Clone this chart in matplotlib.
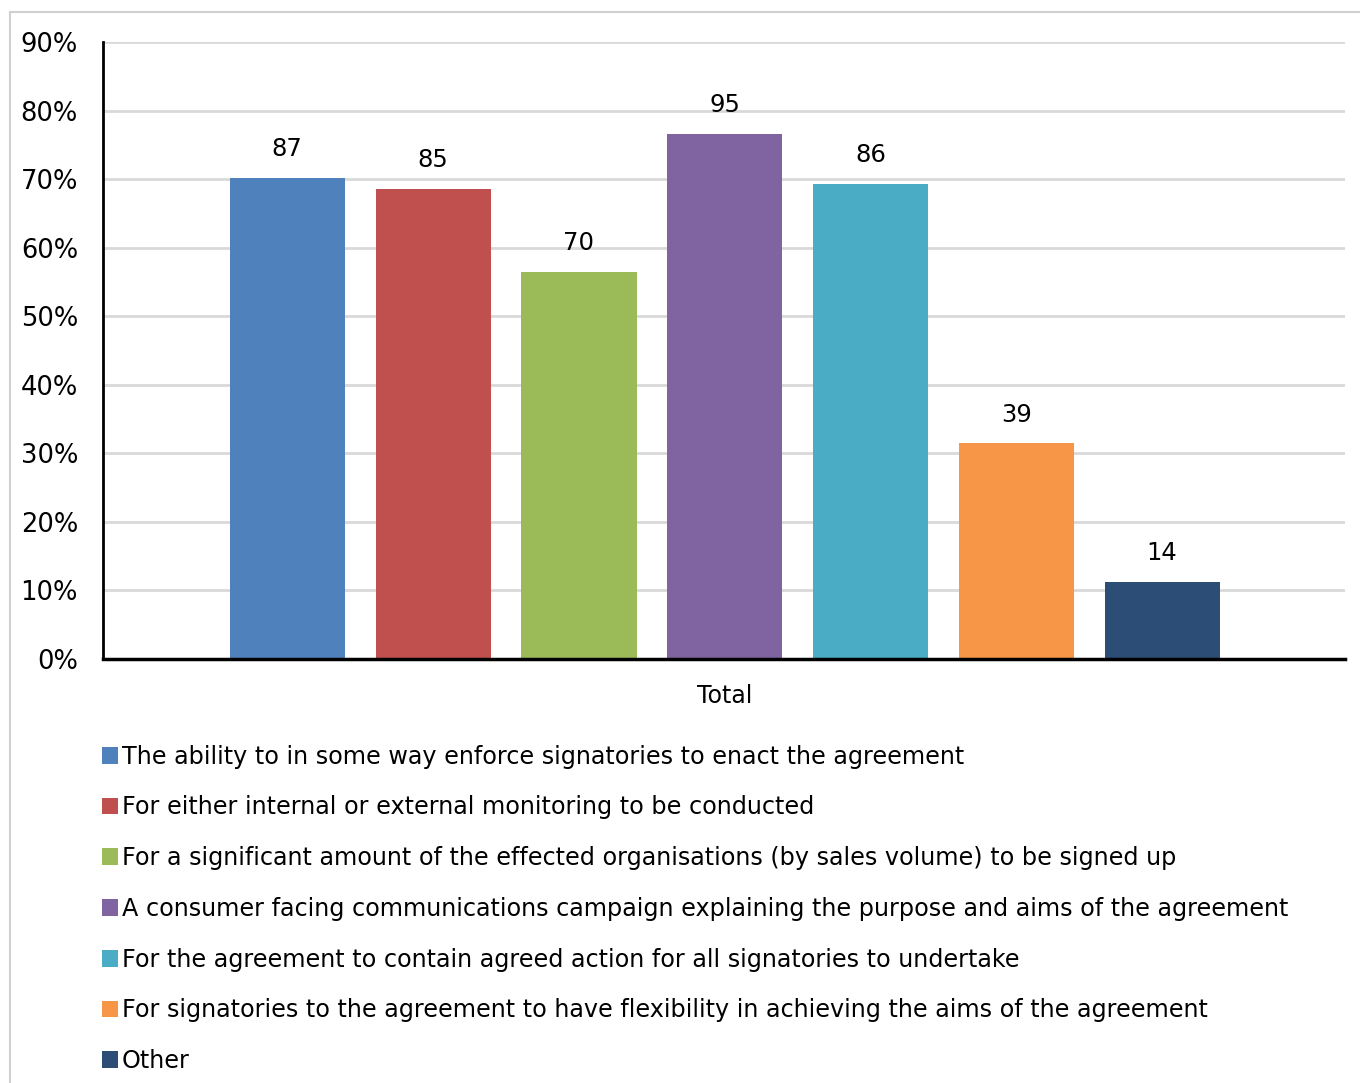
import matplotlib
matplotlib.use("Agg")
import matplotlib.pyplot as plt
from matplotlib.lines import Line2D
from matplotlib.ticker import FuncFormatter
import numpy as np

# survey responses per answer option (respondents could tick several)
options = [
    "The ability to in some way enforce signatories to enact the agreement",
    "For either internal or external monitoring to be conducted",
    "For a significant amount of the effected organisations (by sales volume) to be signed up",
    "A consumer facing communications campaign explaining the purpose and aims of the agreement",
    "For the agreement to contain agreed action for all signatories to undertake",
    "For signatories to the agreement to have flexibility in achieving the aims of the agreement",
    "Other",
]
counts = [87, 85, 70, 95, 86, 39, 14]
respondents = 124
colors = ["#4F81BD", "#C0504D", "#9BBB59", "#8064A2", "#4BACC6", "#F79646", "#2C4D75"]
yticks = [0, 10, 20, 30, 40, 50, 60, 70, 80, 90]

share = np.array(counts) / respondents * 100

plt.rcParams["font.family"] = ["DejaVu Sans"]

W, H = 1360, 1083
fig = plt.figure(figsize=(W / 100, H / 100), dpi=100)
ax = fig.add_axes([103 / W, 1 - 659 / H, (1345 - 103) / W, (659 - 42) / H])

x = np.arange(len(counts))
bars = ax.bar(x, share, width=0.79, color=colors, zorder=3)

for xi, (c, s) in enumerate(zip(counts, share)):
    ax.annotate(str(c), (xi, s), xytext=(0, 12), textcoords="offset points",
                ha="center", va="bottom", fontsize=17.5, color="#000000")

# one category only, bars sit centred with a margin either side
ax.set_xlim(-0.394 - 0.87, 6.394 + 0.86)
ax.set_ylim(0, 90)
ax.set_yticks(yticks)
ax.yaxis.set_major_formatter(FuncFormatter(lambda v, p: f"{v:.0f}%"))
ax.set_xticks([3])
ax.set_xticklabels(["Total"])
ax.tick_params(axis="y", length=0, labelsize=18.5, pad=18)
ax.tick_params(axis="x", length=0, labelsize=17, pad=18)

ax.grid(axis="y", color="#d9d9d9", linewidth=2, zorder=0)
for side in ("top", "right"):
    ax.spines[side].set_visible(False)
ax.spines["left"].set_linewidth(2)
ax.spines["bottom"].set_linewidth(2.5)
ax.spines["bottom"].set_zorder(4)

leg = fig.legend(handles=bars.patches, labels=options, loc="upper left",
                 bbox_to_anchor=(92 / W, 1 - 735 / H), frameon=False,
                 fontsize=17.2, handlelength=0.7, handleheight=0.7,
                 handletextpad=0.15, labelspacing=1.12, borderaxespad=0)

# outer chart border (only top and left edges fall inside the image)
fig.add_artist(Line2D([10 / W, 1], [1 - 12 / H, 1 - 12 / H], color="#d0d0d0", lw=1.5))
fig.add_artist(Line2D([10 / W, 10 / W], [0, 1 - 12 / H], color="#d0d0d0", lw=1.5))

fig.savefig("out.png", dpi=100)
